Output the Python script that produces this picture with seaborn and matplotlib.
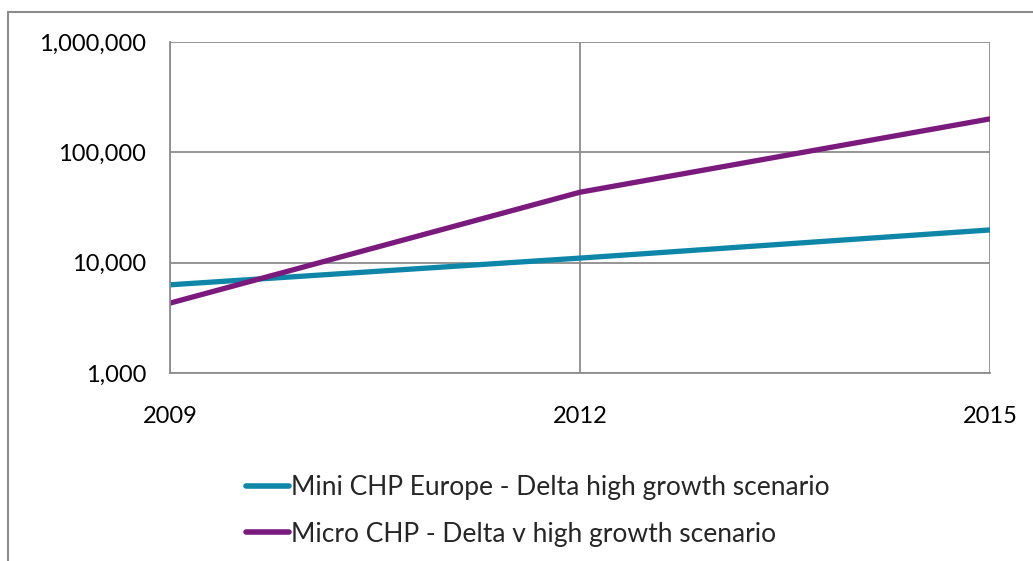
import numpy as np
import pandas as pd
import matplotlib
matplotlib.use('Agg')
import matplotlib.pyplot as plt
import seaborn as sns
from matplotlib.ticker import FuncFormatter
from matplotlib.patches import Rectangle

# datos
years = [2009, 2012, 2015]
mini_chp = [6300, 11000, 19800]
micro_chp = [4300, 43500, 201000]
series_names = ['Mini CHP Europe - Delta high growth scenario',
                'Micro CHP - Delta v high growth scenario']
colors = ['#0e86a8', '#7a1a7d']

df = pd.DataFrame({
    'year': years * 2,
    'value': mini_chp + micro_chp,
    'serie': [series_names[0]] * 3 + [series_names[1]] * 3,
})

sns.set_style('white')
plt.rcParams['font.family'] = ['Lato', 'DejaVu Sans']

W, H = 1033, 561
fig = plt.figure(figsize=(W / 100, H / 100), dpi=100)
ax = fig.add_axes([170 / W, 1 - 373 / H, 820 / W, 331 / H])

sns.lineplot(data=df, x='year', y='value', hue='serie', palette=colors,
             linewidth=3.8, ax=ax, legend=True)
ax.set_yscale('log')
ax.set_ylim(1000, 1000000)
ax.set_xlim(2009, 2015)
ax.set_xticks(years)
ax.set_yticks([1000, 10000, 100000, 1000000])
ax.yaxis.set_minor_locator(matplotlib.ticker.NullLocator())
ax.yaxis.set_major_formatter(FuncFormatter(lambda v, p: f'{int(v):,}'))
ax.grid(True, color='#8c8c8c', linewidth=1.3)
ax.set_axisbelow(True)
ax.set_xlabel('')
ax.set_ylabel('')
for s in ['top', 'right']:
    ax.spines[s].set_visible(False)
for s in ['left', 'bottom']:
    ax.spines[s].set_color('#8c8c8c')
    ax.spines[s].set_linewidth(1.3)
ax.tick_params(axis='both', which='major', length=7, width=1.3, color='#8c8c8c',
               labelsize=17, labelcolor='black', direction='out')
ax.tick_params(axis='x', pad=17)
ax.tick_params(axis='y', pad=10)

# leyenda abajo
handles, labels = ax.get_legend_handles_labels()
for h in handles:
    h.set_linewidth(4)
ax.legend(handles, labels, loc='upper left', bbox_to_anchor=(222 / W, 1 - 451 / H),
          bbox_transform=fig.transFigure, frameon=False, fontsize=19,
          handlelength=1.65, handletextpad=0.08, labelspacing=0.83)

# marco del area del grafico
fig.patches.append(Rectangle((8 / W, -0.1), 1.2, 1 - 12 / H + 0.1,
                             transform=fig.transFigure, fill=False,
                             edgecolor='#8c8c8c', linewidth=1.5))

fig.savefig('out.png', dpi=100)
